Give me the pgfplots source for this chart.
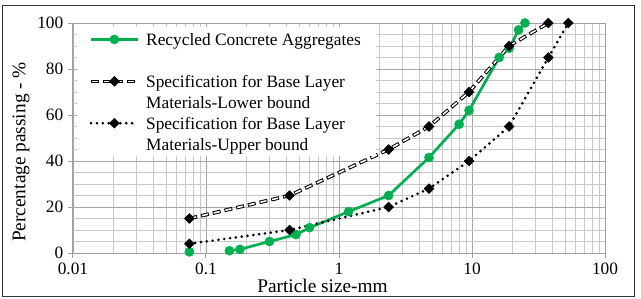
\documentclass[border=0pt]{standalone}
\usepackage{fontspec}
\setmainfont{Liberation Serif}
\newfontfamily\tnr{Liberation Serif}
\usepackage{pgfplots}
\pgfplotsset{compat=1.18}
\definecolor{rcagreen}{HTML}{00B050}
\definecolor{gridmaj}{HTML}{A6A6A6}
\definecolor{gridmin}{HTML}{C8C8C8}
\definecolor{axline}{HTML}{A0A0A0}
\pgfplotstableread{
x y
0.075 15
0.425 25
2.36 45
4.75 55
9.5 70
19 90
37.5 100
}\lowerbound
\begin{document}
\begin{tikzpicture}[font=\tnr]
\useasboundingbox (0,0) rectangle (480.75pt,223.5pt);
\draw[black!80, line width=0.75pt] (1.5pt,1.125pt) rectangle (475.5pt,219.75pt);
\begin{axis}[
  at={(54.75pt,33.75pt)}, anchor=south west,
  scale only axis, width=399pt, height=172.5pt,
  xmode=log, xmin=0.01, xmax=100, ymin=0, ymax=100,
  xtick={0.01,0.1,1,10,100}, xticklabels={0.01,0.1,1,10,100},
  ytick={0,20,40,60,80,100}, minor y tick num=3,
  grid=both,
  major grid style={draw=gridmaj, line width=0.6pt},
  minor grid style={draw=gridmin, line width=0.6pt},
  axis line style={draw=axline, line width=0.75pt},
  tick align=outside, major tick length=3.75pt, minor tick length=0pt,
  xtick pos=left, ytick pos=left,
  tick style={draw=axline, line width=0.75pt},
  /pgf/number format/assume math mode=true,
  tick label style={font=\tnr\fontsize{13}{15}\selectfont, black},
  xlabel={Particle size-mm},
  ylabel={Percentage passing - \%},
  xlabel style={at={(axis description cs:0.469,-0.145)}, anchor=center, font=\tnr\fontsize{14.5}{17}\selectfont},
  ylabel style={at={(axis description cs:-0.0977,0.439)}, anchor=center, rotate=0, font=\tnr\fontsize{14.5}{17}\selectfont},
  unbounded coords=jump,
  legend cell align=left,
  legend style={at={(0.0075,0.983)}, anchor=north west, draw=none, fill=white,
    font=\tnr\fontsize{13}{15}\selectfont, inner xsep=9pt, inner ysep=1.2pt,
    row sep=-0.3pt, column sep=3pt},
  legend image code/.code={\draw[mark repeat=2, mark phase=2, #1] plot coordinates {(0pt,0pt) (17.5pt,0pt) (35pt,0pt)};},
]
\addplot[rcagreen, line width=2pt, mark=*, mark size=3.4pt, mark options={solid, fill=rcagreen, draw=rcagreen, line width=0.4pt}]
  coordinates {(0.075,0.5) (0.1,nan) (0.15,1) (0.18,1.6) (0.3,5) (0.475,8) (0.6,11) (1.18,18) (2.36,25) (4.75,41.5) (8,56) (9.5,62) (16,85) (19,89) (22.4,97) (25,100)};
\addlegendentry{\strut Recycled Concrete Aggregates}
\addlegendimage{empty legend}
\addlegendentry{\strut}
% lower bound: hollow dashes (black dash with a shorter white core)
\addplot[forget plot, black, line width=2.7pt, dash pattern=on 6pt off 3pt] table {\lowerbound};
\addplot[forget plot, white, line width=1.2pt, dash pattern=on 4.6pt off 4.4pt, dash phase=8.3pt] table {\lowerbound};
\addplot[only marks, mark=square*, mark size=2.6pt, mark options={solid, rotate=45, fill=black, draw=black, line width=0.4pt},
  legend image code/.code={
    \draw[black, line width=2.7pt, dash pattern=on 6pt off 3pt] (0pt,0pt)--(35pt,0pt);
    \draw[white, line width=1.2pt, dash pattern=on 4.6pt off 4.4pt, dash phase=8.3pt] (0pt,0pt)--(35pt,0pt);
    \fill[black] (17.5pt,3.7pt)--(21.2pt,0pt)--(17.5pt,-3.7pt)--(13.8pt,0pt)--cycle;
  }] table {\lowerbound};
\addlegendentry{\strut Specification for Base Layer}
\addlegendimage{empty legend}
\addlegendentry{\strut Materials-Lower bound}
\addplot[black, line width=2.2pt, line cap=round, dash pattern=on 0pt off 4.4pt, mark=square*, mark size=2.6pt, mark options={solid, rotate=45, fill=black, draw=black, line width=0.4pt}]
  coordinates {(0.075,4) (0.425,10) (2.36,20) (4.75,28) (9.5,40) (19,55) (37.5,85) (53,100)};
\addlegendentry{\strut Specification for Base Layer}
\addlegendimage{empty legend}
\addlegendentry{\strut Materials-Upper bound}
\end{axis}
\end{tikzpicture}
\end{document}
